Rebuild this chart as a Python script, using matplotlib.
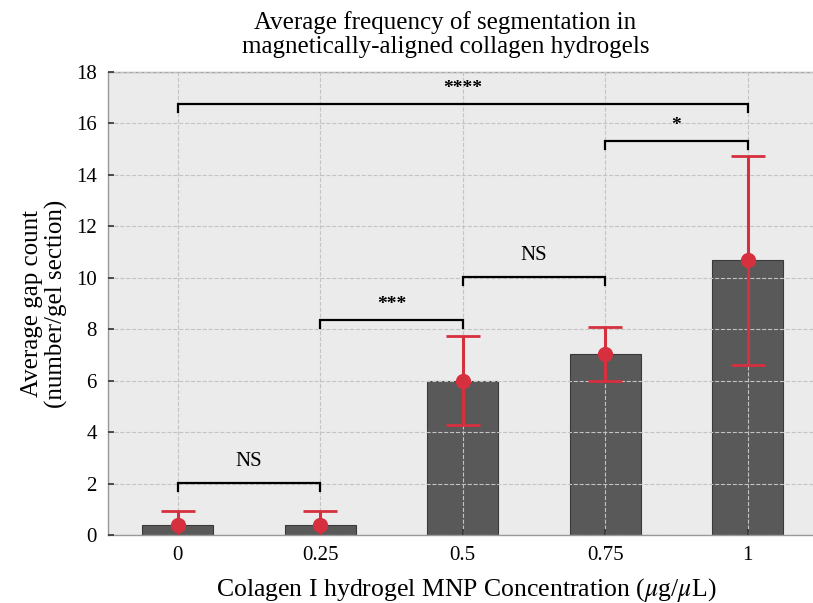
import matplotlib
matplotlib.use("Agg")
import matplotlib.pyplot as plt
import numpy as np

categories = ['0', '0.25', '0.5', '0.75', '1']
means = [0.37, 0.37, 6.0, 7.05, 10.68]
errs = [0.55, 0.55, 1.72, 1.05, 4.07]
yticks = [0, 2, 4, 6, 8, 10, 12, 14, 16, 18]

# significance brackets: (i, j, height, label)
brackets = [
    (0, 1, 2.02, 'NS'),
    (1, 2, 8.36, '***'),
    (2, 3, 10.03, 'NS'),
    (3, 4, 15.32, '*'),
    (0, 4, 16.76, '****'),
]

plt.rcParams['font.family'] = ['Liberation Serif', 'DejaVu Serif']
plt.rcParams['mathtext.fontset'] = 'stix'

fig = plt.figure(figsize=(8.13, 6.03), dpi=100)
ax = fig.add_axes([108/813, 68/603, 716/813, 463/603])
ax.set_facecolor('#ebebeb')

x = np.arange(len(categories))
ax.bar(x, means, width=0.5, color='#595959', edgecolor='#3a3a3a', linewidth=0.8, zorder=1)
ax.set_axisbelow(False)
ax.grid(True, linestyle='--', color='#c4c4c4', linewidth=0.8)
ax.errorbar(x, means, yerr=errs, fmt='o', color='#d6303f', ecolor='#d6303f',
            markersize=10, elinewidth=2.2, capsize=12.5, capthick=2.0, zorder=4)

for i, j, h, lab in brackets:
    ax.plot([x[i], x[i], x[j], x[j]], [h - 0.3, h, h, h - 0.3], color='black',
            linewidth=1.6, zorder=5, solid_joinstyle='miter')
    if '*' in lab:
        ax.text((x[i] + x[j]) / 2, h + 0.28, lab, ha='center', va='bottom',
                fontsize=14, fontweight='bold', zorder=6)
    else:
        ax.text((x[i] + x[j]) / 2, h + 0.45, lab, ha='center', va='bottom',
                fontsize=15, zorder=6)

ax.set_xlim(-0.49, 4.535)
ax.set_ylim(0, 18)
ax.set_xticks(x)
ax.set_xticklabels(categories)
ax.set_yticks(yticks)
ax.tick_params(direction='in', length=4, width=1.2, color='#333333', labelsize=15, pad=8)
for s in ['left', 'top', 'bottom', 'right']:
    ax.spines[s].set_color('#999999')
    ax.spines[s].set_linewidth(1.0)

ax.set_xlabel('Colagen I hydrogel MNP Concentration ($\\mu$g/$\\mu$L)', fontsize=18.5, labelpad=8)
ax.set_ylabel('Average gap count\n(number/gel section)', fontsize=18, labelpad=6, linespacing=1.1)
fig.text(0.548, 0.982, 'Average frequency of segmentation in\nmagnetically-aligned collagen hydrogels',
         ha='center', va='top', fontsize=18, linespacing=1.12)

fig.savefig('out.png', dpi=100)
